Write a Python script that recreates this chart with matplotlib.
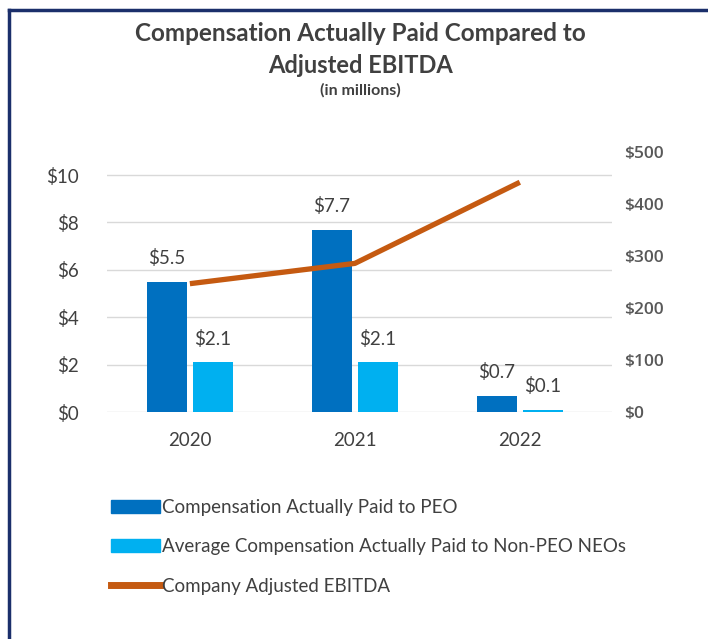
import numpy as np
import matplotlib.pyplot as plt
from matplotlib.patches import Patch
from matplotlib.lines import Line2D

# Data (in millions)
years = ['2020', '2021', '2022']
cap_peo = [5.5, 7.7, 0.7]
cap_neo = [2.1, 2.1, 0.1]
ebitda = [247, 286, 442]

left_ticks = [0, 2, 4, 6, 8, 10]
right_ticks = [0, 100, 200, 300, 400, 500]

dark_blue = '#0070C0'
light_blue = '#00B0F0'
orange = '#C55A11'
text_col = '#404040'

plt.rcParams['font.family'] = ['Lato', 'DejaVu Sans']

fig = plt.figure(figsize=(7.08, 6.39), dpi=100)
ax = fig.add_axes([0.151, 0.355, 0.713, 0.407])
ax2 = ax.twinx()

x = np.arange(len(years))
w = 0.245
off = 0.14
b1 = ax.bar(x - off, cap_peo, w, color=dark_blue, zorder=2)
b2 = ax.bar(x + off, cap_neo, w, color=light_blue, zorder=2)

for rect, v in zip(list(b1) + list(b2), cap_peo + cap_neo):
    ax.annotate(f'${v:.1f}', (rect.get_x() + rect.get_width() / 2, rect.get_height()),
                xytext=(0, 17), textcoords='offset points', ha='center', va='center',
                fontsize=13.5, color=text_col)

ax2.plot(x, ebitda, color=orange, lw=3.8, solid_capstyle='butt', zorder=3)

ax.set_xlim(-0.503, 2.557)
ax.set_ylim(0, 10.97)
ax2.set_ylim(0, 500)

ax.set_yticks(left_ticks)
ax.set_yticklabels([f'${t}' for t in left_ticks], fontsize=13.5, color=text_col)
ax2.set_yticks(right_ticks)
ax2.set_yticklabels([f'${t}' for t in right_ticks], fontsize=12.5, color='#595959',
                    family='Open Sans', fontweight='semibold')
ax.set_xticks(x)
ax.set_xticklabels(years, fontsize=13.5, color=text_col)

ax.grid(axis='y', color='#D9D9D9', lw=1, zorder=0)
ax.tick_params(length=0, pad=20)
ax.tick_params(axis='x', pad=14)
ax2.tick_params(length=0, pad=9)
for a in (ax, ax2):
    for s in a.spines.values():
        s.set_visible(False)

# titles
fig.text(0.509, 0.947, 'Compensation Actually Paid Compared to', ha='center', va='center',
         fontsize=17.5, fontweight='bold', color=text_col)
fig.text(0.509, 0.898, 'Adjusted EBITDA', ha='center', va='center',
         fontsize=17, fontweight='bold', color=text_col)
fig.text(0.509, 0.858, '(in millions)', ha='center', va='center',
         fontsize=11.5, fontweight='bold', color=text_col)

# legend
handles = [Patch(color=dark_blue), Patch(color=light_blue),
           Line2D([], [], color=orange, lw=5)]
labels = ['Compensation Actually Paid to PEO',
          'Average Compensation Actually Paid to Non-PEO NEOs',
          'Company Adjusted EBITDA']
fig.legend(handles, labels, loc='upper left', bbox_to_anchor=(0.157, 0.219),
           frameon=False, fontsize=13.5, handlelength=2.6, handleheight=0.7,
           handletextpad=0.1, labelspacing=1.19, labelcolor=text_col,
           borderaxespad=0, borderpad=0)

# frame lines top and left
fig.add_artist(Line2D([0.0134, 1.0], [0.984, 0.984], color='#1B2F6B', lw=2.5))
fig.add_artist(Line2D([0.0134, 0.0134], [0.0, 0.984], color='#1B2F6B', lw=2.5))

fig.savefig('out.png', dpi=100)
